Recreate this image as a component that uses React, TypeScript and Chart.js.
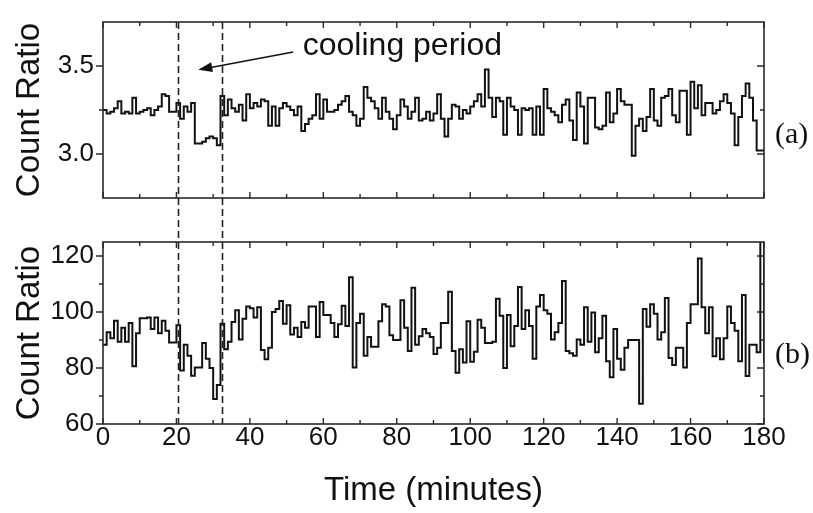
import React, { useEffect, useRef } from 'react';
import { Chart, registerables } from 'chart.js';

Chart.register(...registerables);

// ---------- data ----------
const BIN_MINUTES = 1;
const X_MIN = 0;
const X_MAX = 180;
const xTickValues = [0, 20, 40, 60, 80, 100, 120, 140, 160, 180];
const xMinorTicks = [10, 30, 50, 70, 90, 110, 130, 150, 170];

// (a) count ratio, one value per minute bin
const topRatio = [
  3.25, 3.23, 3.24, 3.26, 3.30, 3.23, 3.24, 3.23, 3.32, 3.23,
  3.24, 3.25, 3.26, 3.22, 3.25, 3.27, 3.34, 3.33, 3.24, 3.24,
  3.29, 3.20, 3.27, 3.24, 3.29, 3.06, 3.06, 3.07, 3.09, 3.10,
  3.09, 3.05, 3.33, 3.22, 3.31, 3.26, 3.24, 3.28, 3.19, 3.34,
  3.26, 3.29, 3.27, 3.31, 3.30, 3.16, 3.27, 3.16, 3.26, 3.29,
  3.27, 3.25, 3.22, 3.27, 3.13, 3.17, 3.20, 3.22, 3.34, 3.20,
  3.31, 3.24, 3.24, 3.25, 3.28, 3.30, 3.33, 3.24, 3.22, 3.16,
  3.20, 3.38, 3.32, 3.30, 3.26, 3.20, 3.32, 3.24, 3.20, 3.14,
  3.22, 3.31, 3.27, 3.20, 3.24, 3.32, 3.19, 3.20, 3.24, 3.19,
  3.23, 3.34, 3.20, 3.10, 3.20, 3.28, 3.27, 3.20, 3.25, 3.23,
  3.27, 3.30, 3.34, 3.27, 3.48, 3.32, 3.21, 3.32, 3.30, 3.11,
  3.32, 3.27, 3.25, 3.11, 3.26, 3.25, 3.26, 3.11, 3.27, 3.11,
  3.37, 3.26, 3.24, 3.22, 3.18, 3.28, 3.31, 3.19, 3.08, 3.35,
  3.27, 3.06, 3.32, 3.32, 3.15, 3.14, 3.16, 3.35, 3.18, 3.23,
  3.37, 3.30, 3.28, 3.28, 2.99, 3.16, 3.20, 3.13, 3.21, 3.37,
  3.19, 3.16, 3.32, 3.33, 3.37, 3.22, 3.18, 3.36, 3.36, 3.11,
  3.41, 3.26, 3.39, 3.22, 3.29, 3.29, 3.23, 3.25, 3.30, 3.34,
  3.29, 3.23, 3.05, 3.21, 3.33, 3.40, 3.32, 3.19, 3.02, 3.02,
];
const topEndValue = 3.02;
const topYRange = [2.75, 3.75];
const topYTicks = [3.0, 3.5];
const topYMinor = [3.25];

// (b) count ratio, one value per minute bin
const bottomRatio = [
  88.3, 92.8, 90.6, 96.9, 89.4, 94.4, 89.4, 96.1, 80.6, 92.4,
  97.8, 97.8, 98.0, 93.9, 98.0, 92.4, 96.9, 93.3, 89.1, 89.1,
  95.3, 79.1, 88.3, 84.4, 77.2, 80.2, 80.2, 88.9, 83.3, 80.0,
  68.9, 73.9, 95.8, 86.7, 89.4, 96.4, 100.6, 90.2, 97.6, 102.0,
  101.3, 98.0, 101.7, 86.4, 83.1, 87.2, 100.0, 101.1, 103.9, 95.8,
  102.4, 92.0, 94.4, 91.1, 96.4, 94.4, 102.0, 102.0, 91.1, 103.6,
  98.9, 98.9, 96.1, 91.1, 95.6, 102.2, 95.0, 112.4, 80.2, 96.1,
  99.4, 84.4, 91.1, 87.6, 87.6, 96.7, 102.8, 102.0, 91.7, 90.0,
  90.0, 104.2, 94.4, 86.1, 108.7, 88.3, 91.3, 93.9, 92.4, 91.1,
  85.0, 87.2, 96.1, 96.1, 107.2, 86.1, 78.3, 86.7, 82.0, 96.7,
  82.2, 85.8, 97.2, 94.4, 88.9, 88.9, 89.4, 104.7, 98.7, 80.0,
  98.9, 87.8, 95.0, 108.9, 93.9, 100.6, 95.0, 83.3, 102.0, 106.1,
  100.6, 99.4, 90.2, 92.8, 96.1, 111.1, 86.1, 85.3, 84.4, 90.2,
  88.3, 101.7, 89.4, 99.8, 85.6, 90.6, 98.7, 82.4, 76.7, 93.9,
  83.3, 79.4, 87.2, 90.0, 90.0, 90.0, 67.2, 101.1, 94.7, 102.8,
  99.4, 90.2, 92.8, 105.0, 83.6, 81.1, 87.2, 87.2, 80.2, 96.1,
  102.8, 102.8, 119.1, 101.7, 92.4, 101.7, 84.2, 90.6, 83.1, 90.6,
  102.0, 96.1, 93.3, 82.4, 106.1, 77.1, 88.3, 88.3, 85.6, 135.0,
];
const bottomEndValue = 82.0;
const bottomYRange = [60, 125];
const bottomYTicks = [60, 80, 100, 120];
const bottomYMinor = [70, 90, 110];

// cooling period boundaries (minutes)
const coolingBounds = [20.5, 32.3];
// annotation in data units of panel (a)
const coolingLabel = 'cooling period';
const coolingLabelAt = [54.4, 3.5625];
const arrowFrom = [51.8, 3.58];
const arrowTo = [25.95, 3.4785];

// ---------- styling ----------
const SANS = '"Liberation Sans", Arial, Helvetica, sans-serif';
const SERIF = '"Liberation Serif", "Times New Roman", serif';
const INK = '#111111';
const FRAME = '#2a2a2a';

function toSteps(values: number[], endValue: number) {
  const pts = values.map((v, i) => ({ x: i * BIN_MINUTES, y: v }));
  pts.push({ x: values.length * BIN_MINUTES, y: endValue });
  return pts;
}

const panelDecor = {
  id: 'panelDecor',
  afterDatasetsDraw(chart: any, _args: any, opts: any) {
    const { ctx, chartArea: a, scales } = chart;
    const xs = scales.x;
    const ys = scales.y;
    ctx.save();

    // dashed cooling-period lines
    ctx.strokeStyle = '#222';
    ctx.lineWidth = 1.6;
    ctx.setLineDash([7, 4]);
    const dTop = opts.dashExtend === 'top' ? 0 : a.top;
    const dBot = opts.dashExtend === 'bottom' ? chart.height : a.bottom;
    coolingBounds.forEach((m) => {
      const px = Math.round(xs.getPixelForValue(m)) + 0.5;
      ctx.beginPath();
      ctx.moveTo(px, dTop);
      ctx.lineTo(px, dBot);
      ctx.stroke();
    });
    ctx.setLineDash([]);

    // frame
    ctx.strokeStyle = FRAME;
    ctx.lineWidth = 1.6;
    ctx.strokeRect(a.left, a.top, a.right - a.left, a.bottom - a.top);

    // x ticks, inward on top and bottom
    ctx.lineWidth = 1.4;
    const xt = (v: number, len: number) => {
      const px = xs.getPixelForValue(v);
      ctx.beginPath();
      ctx.moveTo(px, a.bottom);
      ctx.lineTo(px, a.bottom - len);
      ctx.moveTo(px, a.top);
      ctx.lineTo(px, a.top + len);
      ctx.stroke();
    };
    xTickValues.forEach((v) => xt(v, 6));
    xMinorTicks.forEach((v) => xt(v, 4));

    // y ticks: outward on left, inward on right
    const yt = (v: number, len: number) => {
      const py = ys.getPixelForValue(v);
      ctx.beginPath();
      ctx.moveTo(a.left, py);
      ctx.lineTo(a.left - len, py);
      ctx.moveTo(a.right, py);
      ctx.lineTo(a.right - len, py);
      ctx.stroke();
    };
    (opts.yMajor as number[]).forEach((v) => yt(v, 7));
    (opts.yMinor as number[]).forEach((v) => yt(v, 4));

    // panel label
    ctx.fillStyle = INK;
    ctx.font = `30px ${SERIF}`;
    ctx.textAlign = 'left';
    ctx.textBaseline = 'middle';
    ctx.fillText(opts.panelLabel, a.right + 11, a.top + 113);

    // annotation
    if (opts.annotate) {
      ctx.font = `32px ${SANS}`;
      ctx.textBaseline = 'alphabetic';
      ctx.fillText(coolingLabel, xs.getPixelForValue(coolingLabelAt[0]), ys.getPixelForValue(coolingLabelAt[1]));
      const x1 = xs.getPixelForValue(arrowFrom[0]);
      const y1 = ys.getPixelForValue(arrowFrom[1]);
      const x2 = xs.getPixelForValue(arrowTo[0]);
      const y2 = ys.getPixelForValue(arrowTo[1]);
      const ang = Math.atan2(y2 - y1, x2 - x1);
      const headLen = 14;
      const headW = 5;
      const bx = x2 - headLen * Math.cos(ang);
      const by = y2 - headLen * Math.sin(ang);
      ctx.strokeStyle = INK;
      ctx.lineWidth = 1.5;
      ctx.beginPath();
      ctx.moveTo(x1, y1);
      ctx.lineTo(bx, by);
      ctx.stroke();
      ctx.beginPath();
      ctx.moveTo(x2, y2);
      ctx.lineTo(bx + headW * Math.sin(ang), by - headW * Math.cos(ang));
      ctx.lineTo(bx - headW * Math.sin(ang), by + headW * Math.cos(ang));
      ctx.closePath();
      ctx.fill();
    }
    ctx.restore();
  },
};

function yScale(range: number[], ticks: number[], digits: number) {
  return {
    type: 'linear',
    min: range[0],
    max: range[1],
    afterFit: (s: any) => {
      s.width = 103;
    },
    afterBuildTicks: (s: any) => {
      s.ticks = ticks.map((v) => ({ value: v }));
    },
    grid: { display: false, drawTicks: false },
    border: { display: false },
    ticks: {
      color: INK,
      padding: 9,
      font: { family: SANS, size: 26, lineHeight: 1 },
      callback: (v: any) => Number(v).toFixed(digits),
    },
    title: {
      display: true,
      text: 'Count Ratio',
      color: INK,
      font: { family: SANS, size: 33, lineHeight: 1 },
      padding: { top: 13, bottom: 0 },
    },
  };
}

function lineDataset(values: number[], endValue: number) {
  return {
    data: toSteps(values, endValue),
    stepped: 'before',
    borderColor: INK,
    borderWidth: 2,
    pointRadius: 0,
    fill: false,
    clip: 0,
  };
}

export default function App() {
  const topRef = useRef<HTMLCanvasElement | null>(null);
  const botRef = useRef<HTMLCanvasElement | null>(null);

  useEffect(() => {
    if (!topRef.current || !botRef.current) return;
    const common = {
      responsive: false,
      animation: false,
      events: [],
    };
    const top = new Chart(topRef.current, {
      type: 'line',
      data: { datasets: [lineDataset(topRatio, topEndValue)] as any },
      options: {
        ...common,
        layout: { padding: { left: 0, right: 49, top: 10, bottom: 10 } },
        plugins: {
          legend: { display: false },
          tooltip: { enabled: false },
          panelDecor: { panelLabel: '(a)', annotate: true, dashExtend: 'bottom', yMajor: topYTicks, yMinor: topYMinor },
        } as any,
        scales: {
          x: { type: 'linear', min: X_MIN, max: X_MAX, display: false },
          y: yScale(topYRange, topYTicks, 1) as any,
        },
      } as any,
      plugins: [panelDecor],
    });
    const bottom = new Chart(botRef.current, {
      type: 'line',
      data: { datasets: [lineDataset(bottomRatio, bottomEndValue)] as any },
      options: {
        ...common,
        layout: { padding: { left: 0, right: 49, top: 8, bottom: 0 } },
        plugins: {
          legend: { display: false },
          tooltip: { enabled: false },
          panelDecor: { panelLabel: '(b)', annotate: false, dashExtend: 'top', yMajor: bottomYTicks, yMinor: bottomYMinor },
        } as any,
        scales: {
          x: {
            type: 'linear',
            min: X_MIN,
            max: X_MAX,
            afterFit: (s: any) => {
              s.height = 89;
            },
            afterBuildTicks: (s: any) => {
              s.ticks = xTickValues.map((v) => ({ value: v }));
            },
            grid: { display: false, drawTicks: false },
            border: { display: false },
            ticks: {
              color: INK,
              padding: 1,
              maxRotation: 0,
              autoSkip: false,
              font: { family: SANS, size: 26, lineHeight: 1 },
              callback: (v: any) => String(v),
            },
            title: {
              display: true,
              text: 'Time (minutes)',
              color: INK,
              font: { family: SANS, size: 33, lineHeight: 1 },
              padding: { top: 0, bottom: 6 },
            },
          },
          y: yScale(bottomYRange, bottomYTicks, 0) as any,
        },
      } as any,
      plugins: [panelDecor],
    });
    return () => {
      top.destroy();
      bottom.destroy();
    };
  }, []);

  return (
    <div style={{ position: 'fixed', left: 0, top: 0, width: 813, height: 513, background: '#fff' }}>
      <canvas
        ref={topRef}
        width={813}
        height={220}
        style={{ position: 'absolute', left: 0, top: 0, width: 813, height: 220 }}
      />
      <canvas
        ref={botRef}
        width={813}
        height={293}
        style={{ position: 'absolute', left: 0, top: 220, width: 813, height: 293 }}
      />
    </div>
  );
}
